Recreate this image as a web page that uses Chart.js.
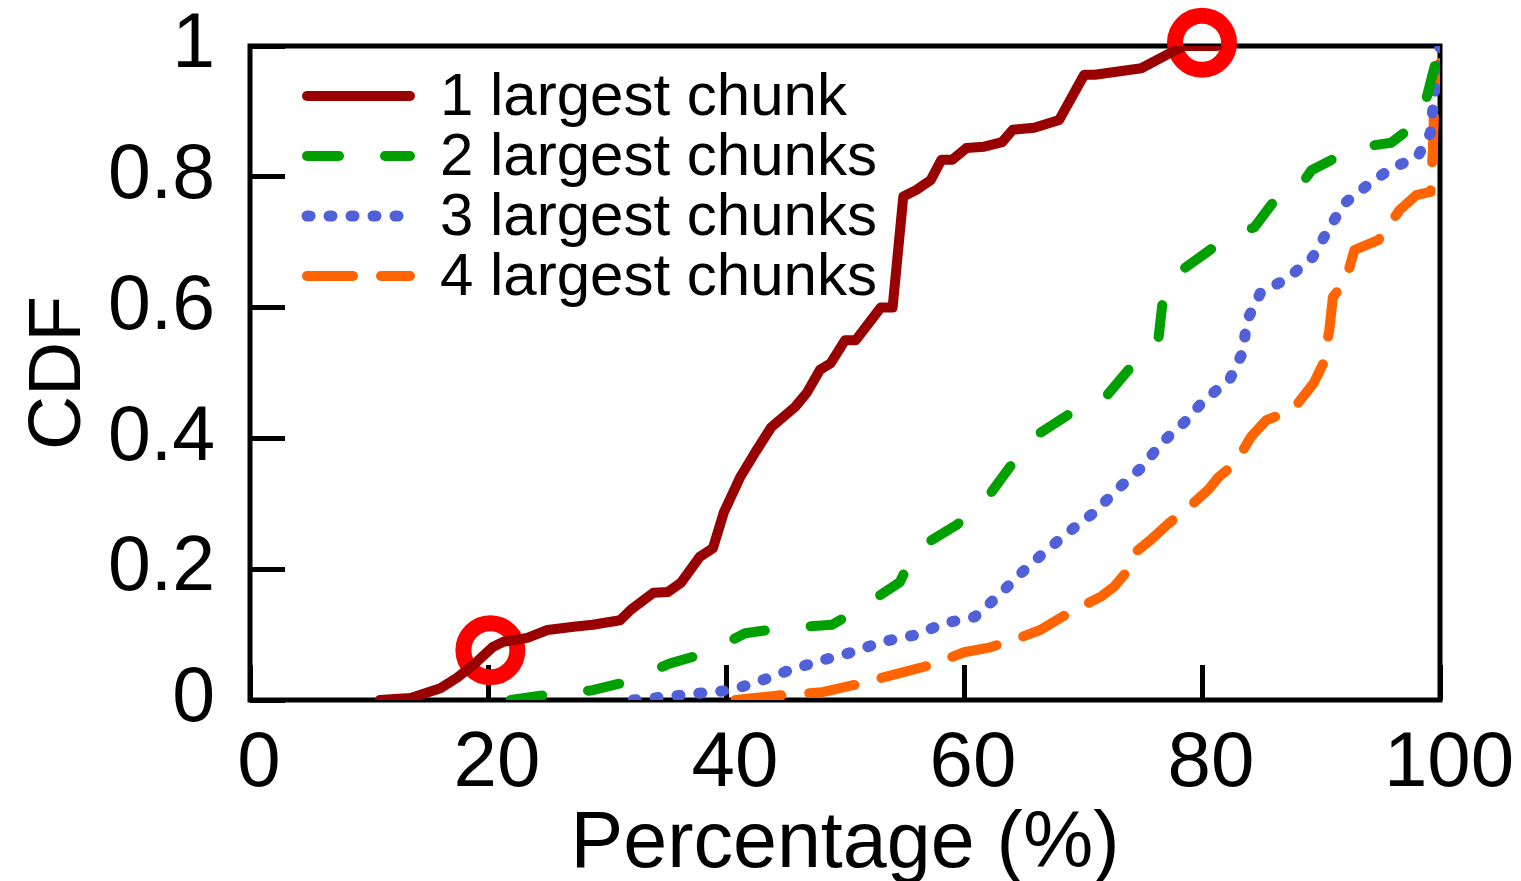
<!DOCTYPE html>
<html>
<head>
<meta charset="utf-8">
<title>CDF of largest chunks</title>
<script src="https://cdn.jsdelivr.net/npm/chart.js@4.4.1/dist/chart.umd.min.js"></script>
<style>
  html, body { margin: 0; padding: 0; background: #fff; }
  #wrap { width: 1521px; height: 881px; position: relative; }
</style>
</head>
<body>
<div id="wrap"><canvas id="cdfChart"></canvas></div>
<script>
// Series labels
const seriesLabels = ['1 largest chunk', '2 largest chunks', '3 largest chunks', '4 largest chunks'];

// 1 largest chunk
const chunk1X = [10.9, 13.5, 16, 17.4, 18.8, 20.4, 21.3, 23.3, 25, 27.2, 28.8, 31.1, 32, 33.9, 35.1, 36.2, 37.8, 38.9, 39.8, 41.2, 42.5, 43.8, 45.8, 46.8, 47.9, 48.8, 50, 50.9, 53, 54, 54.9, 56, 57.2, 58.1, 59, 60.2, 61.7, 63.2, 64.1, 65.9, 68, 70.1, 71, 74.9, 77.3, 78.5, 81.3];
const chunk1Y = [0, 0.003, 0.018, 0.034, 0.054, 0.081, 0.089, 0.095, 0.107, 0.112, 0.115, 0.122, 0.138, 0.164, 0.165, 0.179, 0.219, 0.232, 0.286, 0.341, 0.38, 0.417, 0.448, 0.47, 0.505, 0.515, 0.55, 0.55, 0.6, 0.6, 0.77, 0.78, 0.795, 0.826, 0.826, 0.844, 0.846, 0.853, 0.872, 0.875, 0.887, 0.956, 0.956, 0.966, 0.989, 1.0, 1.0];

// 2 largest chunks
const chunk2X = [21.9, 25, 28.8, 31.7, 35.3, 38.4, 41.6, 44.7, 48.9, 51.1, 54.6, 55.9, 59.4, 61.5, 64, 65.5, 69, 71.7, 74.3, 76.3, 76.8, 78.5, 81.8, 84.4, 86.9, 88.3, 89.2, 92.8, 95.9, 98.4, 99.1, 100];
const chunk2Y = [0, 0.008, 0.015, 0.028, 0.056, 0.072, 0.102, 0.11, 0.115, 0.138, 0.18, 0.229, 0.268, 0.298, 0.36, 0.398, 0.439, 0.459, 0.515, 0.546, 0.627, 0.66, 0.703, 0.723, 0.783, 0.787, 0.81, 0.844, 0.852, 0.887, 0.937, 1.0];

// 3 largest chunks
const chunk3X = [32.2, 35, 37.6, 40.4, 42.7, 45.4, 48.1, 50.6, 53.1, 55.8, 58.5, 60.9, 62.8, 64.8, 66.7, 68.8, 70.9, 73, 74.9, 76.6, 78.6, 80.2, 82.3, 83.4, 83.8, 84.9, 87.2, 89.3, 90.6, 92, 93.9, 95.9, 98.1, 99.2, 99.5, 100];
const chunk3Y = [0, 0.005, 0.01, 0.015, 0.028, 0.046, 0.061, 0.073, 0.089, 0.099, 0.118, 0.127, 0.158, 0.194, 0.225, 0.257, 0.286, 0.324, 0.355, 0.393, 0.426, 0.459, 0.489, 0.531, 0.581, 0.622, 0.645, 0.677, 0.719, 0.76, 0.787, 0.813, 0.83, 0.867, 0.922, 1.0];

// 4 largest chunks
const chunk4X = [40.8, 45.1, 48.1, 50.8, 54.6, 57.3, 60, 62.1, 64.2, 66.4, 68.8, 71.5, 72.6, 73.8, 74.4, 75.7, 77.2, 78.9, 80.5, 81.4, 82.8, 84.1, 85.4, 87.6, 89.4, 90.2, 90.7, 91, 92.1, 92.8, 94.8, 95.9, 96.6, 98, 99.2, 99.4, 99.5, 100];
const chunk4Y = [0, 0.008, 0.012, 0.023, 0.041, 0.054, 0.073, 0.08, 0.092, 0.107, 0.133, 0.158, 0.173, 0.199, 0.226, 0.245, 0.27, 0.295, 0.321, 0.341, 0.362, 0.402, 0.428, 0.443, 0.485, 0.515, 0.566, 0.616, 0.642, 0.688, 0.703, 0.731, 0.749, 0.772, 0.777, 0.841, 0.902, 0.974];

// Highlighted points (red rings)
const markX = [20.2, 80];
const markY = [0.076, 1.005];

// Axis ticks
const xTicks = [0, 20, 40, 60, 80, 100];
const yTicks = [0, 0.2, 0.4, 0.6, 0.8, 1];

const FONT = "'Liberation Sans', Arial, Helvetica, sans-serif";
const colors = ['#990000', '#00a000', '#5060d8', '#ff6400'];
const dashes = [[], [32, 46], [3, 19], [46, 28]];
const widths = [10, 10, 11, 10];

function toPoints(xs, ys) {
    return xs.map((x, i) => ({ x: x, y: ys[i] }));
}

const seriesX = [chunk1X, chunk2X, chunk3X, chunk4X];
const seriesY = [chunk1Y, chunk2Y, chunk3Y, chunk4Y];

const lineSets = seriesLabels.map((label, i) => ({
    label: label,
    data: toPoints(seriesX[i], seriesY[i]),
    borderColor: colors[i],
    borderWidth: widths[i],
    borderDash: dashes[i],
    borderCapStyle: 'round',
    borderJoinStyle: 'round',
    pointRadius: 0,
    tension: 0,
    fill: false
}));

// Frame around the plot area, drawn under the curves
const framePlugin = {
    id: 'frame',
    beforeDatasetsDraw(chart) {
        const { ctx, chartArea: a } = chart;
        ctx.save();
        ctx.strokeStyle = '#000';
        ctx.lineWidth = 5;
        ctx.strokeRect(a.left, a.top, a.right - a.left, a.bottom - a.top);
        ctx.restore();
    }
};

// Legend inside the plot, top-left, drawn as line samples + text
const legendPlugin = {
    id: 'inlineLegend',
    afterDatasetsDraw(chart) {
        const { ctx, chartArea: a } = chart;
        ctx.save();
        ctx.font = '60px ' + FONT;
        ctx.textBaseline = 'middle';
        ctx.textAlign = 'left';
        seriesLabels.forEach((label, i) => {
            const y = a.top + 50 + i * 60;
            ctx.strokeStyle = colors[i];
            ctx.lineWidth = widths[i];
            ctx.lineCap = 'round';
            ctx.setLineDash(dashes[i]);
            ctx.beginPath();
            ctx.moveTo(a.left + 57, y);
            ctx.lineTo(a.left + 160, y);
            ctx.stroke();
            ctx.setLineDash([]);
            ctx.fillStyle = '#000';
            ctx.fillText(label, a.left + 190, y + 2);
        });
        ctx.restore();
    }
};

const ctx = document.getElementById('cdfChart').getContext('2d');
new Chart(ctx, {
    type: 'line',
    data: {
        datasets: [
            ...lineSets,
            {
                label: 'marks',
                type: 'scatter',
                data: toPoints(markX, markY),
                showLine: false,
                pointRadius: 27,
                pointBorderWidth: 16,
                pointBorderColor: '#ff0000',
                pointBackgroundColor: 'rgba(0,0,0,0)',
                clip: false
            }
        ]
    },
    options: {
        responsive: true,
        maintainAspectRatio: false,
        animation: false,
        events: [],
        layout: { padding: { top: 46, right: 81, left: 0, bottom: 0 } },
        plugins: {
            legend: { display: false },
            tooltip: { enabled: false }
        },
        scales: {
            x: {
                type: 'linear',
                min: 0,
                max: 100,
                afterBuildTicks: scale => { scale.ticks = xTicks.map(v => ({ value: v })); },
                afterFit: scale => {
                    scale.height = 181;
                    scale.paddingLeft = 0;
                    scale.paddingRight = 0;
                },
                grid: { drawOnChartArea: false, drawTicks: true, tickLength: -35, tickWidth: 5, color: '#000' },
                border: { display: false },
                ticks: {
                    color: '#000',
                    font: { family: FONT, size: 78 },
                    padding: 53,
                    labelOffset: 9,
                    maxRotation: 0,
                    callback: v => String(v)
                },
                title: {
                    display: true,
                    text: 'Percentage (%)',
                    color: '#000',
                    font: { family: FONT, size: 79, lineHeight: 0.9 },
                    padding: { top: 0, bottom: 0 }
                }
            },
            y: {
                type: 'linear',
                min: 0,
                max: 1,
                afterBuildTicks: scale => { scale.ticks = yTicks.map(v => ({ value: v })); },
                afterFit: scale => {
                    scale.width = 250;
                    scale.paddingTop = 0;
                    scale.paddingBottom = 0;
                },
                grid: { drawOnChartArea: false, drawTicks: true, tickLength: -35, tickWidth: 5, color: '#000' },
                border: { display: false },
                ticks: {
                    color: '#000',
                    font: { family: FONT, size: 77 },
                    padding: 70,
                    callback: v => String(Math.round(v * 10) / 10)
                },
                title: {
                    display: true,
                    text: 'CDF',
                    color: '#000',
                    font: { family: FONT, size: 75, lineHeight: 1 },
                    padding: { top: 22, bottom: 0 }
                }
            }
        }
    },
    plugins: [framePlugin, legendPlugin]
});
</script>
</body>
</html>
